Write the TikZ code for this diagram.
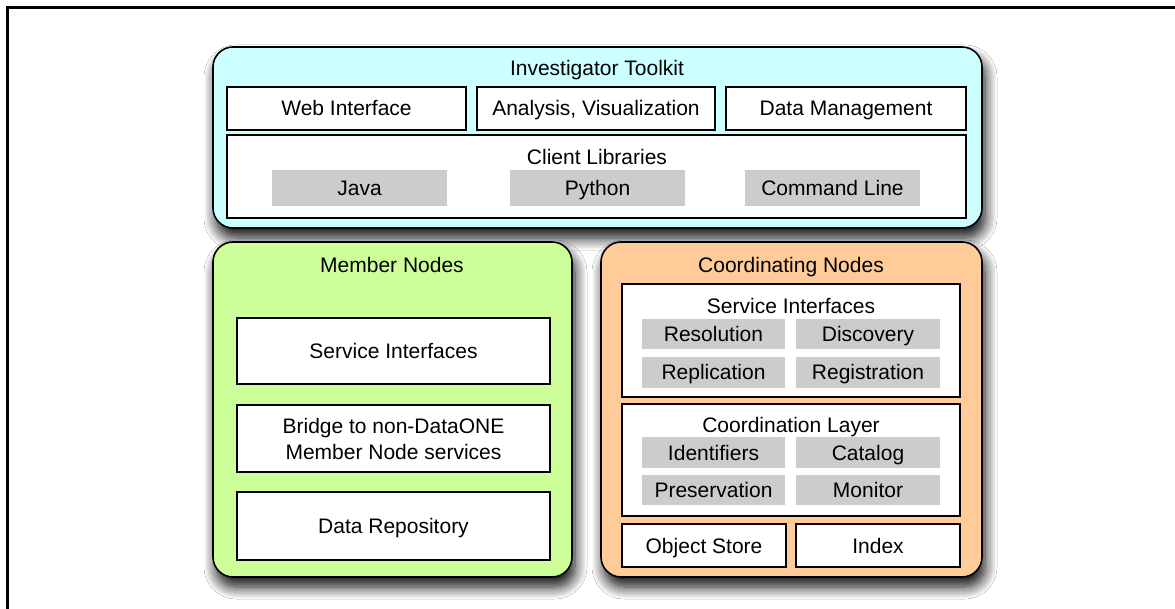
\documentclass[tikz,border=0pt]{standalone}
\usepackage{fontspec}
\setmainfont{Liberation Sans}
\usetikzlibrary{shadows.blur}
\definecolor{tkcyan}{HTML}{CCFFFF}
\definecolor{mngreen}{HTML}{CCFF99}
\definecolor{cnorange}{HTML}{FFCC99}
\definecolor{libgray}{HTML}{CCCCCC}
\begin{document}
\begin{tikzpicture}[x=1pt,y=-1pt,
  every node/.style={font=\fontsize{21}{26}\selectfont},
  area/.style n args={4}{minimum width={(#3-#1)*1pt}, minimum height={(#4-#2)*1pt},
    at={({(#1+#3)/2},{(#2+#4)/2})}},
  panel/.style={draw=black, line width=1.6pt, rounded corners=20pt, inner sep=0pt,
    blur shadow={shadow xshift=3pt, shadow yshift=-10pt, shadow blur radius=12pt, shadow opacity=95, shadow blur steps=12}},
  wbox/.style={draw=black, line width=1.4pt, fill=white, inner sep=0pt, text height=15pt, text depth=0pt},
  gbox/.style={fill=libgray, inner sep=0pt, text height=15pt, text depth=0pt},
  ttl/.style={inner sep=0pt, text height=15pt, text depth=0pt}]
\useasboundingbox (0,0) rectangle (1175,609);
\fill[white] (0,0) rectangle (1175,609);
% frame
\draw[line width=3pt] (1176,7.5) -- (7.5,7.5) -- (7.5,610);

% Investigator Toolkit
\node[panel, fill=tkcyan, area={213}{47}{982}{228}] (tk) {};
\node[ttl] (tkt) at (597,68) {Investigator Toolkit};
\node[wbox, area={227}{87}{466}{130}] (web) {Web Interface};
\node[wbox, area={477}{87}{715}{130}] (ana) {Analysis, Visualization};
\node[wbox, area={726}{87}{966}{130}] (dm) {Data Management};
\node[wbox, area={227}{135}{966}{218}] (cl) {};
\node[ttl] (clt) at (597,157) {Client Libraries};
\node[gbox, area={272}{170}{447}{206}] (java) {Java};
\node[gbox, area={510}{170}{685}{206}] (py) {Python};
\node[gbox, area={745}{170}{920}{206}] (cmd) {Command Line};

% Member Nodes
\node[panel, fill=mngreen, area={213}{242}{572}{577}] (mn) {};
\node[ttl] (mnt) at (392,265) {Member Nodes};
\node[wbox, area={237}{318}{550}{384}] (msvc) {Service Interfaces};
\node[draw=black, line width=1.4pt, fill=white, inner sep=0pt, align=center, area={237}{405}{550}{472}] (bridge) {Bridge to non-DataONE\\Member Node services};
\node[wbox, area={237}{492}{550}{560}] (repo) {Data Repository};

% Coordinating Nodes
\node[panel, fill=cnorange, area={601}{242}{982}{577}] (cn) {};
\node[ttl] (cnt) at (791,265) {Coordinating Nodes};
\node[wbox, area={622}{284}{960}{397}] (csvc) {};
\node[ttl] (csvct) at (791,306) {Service Interfaces};
\node[gbox, area={642}{319}{785}{349}] (res) {Resolution};
\node[gbox, area={796}{319}{940}{349}] (disc) {Discovery};
\node[gbox, area={642}{357}{785}{388}] (repl) {Replication};
\node[gbox, area={796}{357}{940}{388}] (reg) {Registration};
\node[wbox, area={622}{404}{960}{516}] (cly) {};
\node[ttl] (clyt) at (791,425) {Coordination Layer};
\node[gbox, area={642}{437}{785}{468}] (ids) {Identifiers};
\node[gbox, area={796}{437}{940}{468}] (cat) {Catalog};
\node[gbox, area={642}{475}{785}{505}] (pres) {Preservation};
\node[gbox, area={796}{475}{940}{505}] (mon) {Monitor};
\node[wbox, area={622}{524}{786}{567}] (obj) {Object Store};
\node[wbox, area={796}{524}{960}{567}] (idx) {Index};
\end{tikzpicture}
\end{document}
